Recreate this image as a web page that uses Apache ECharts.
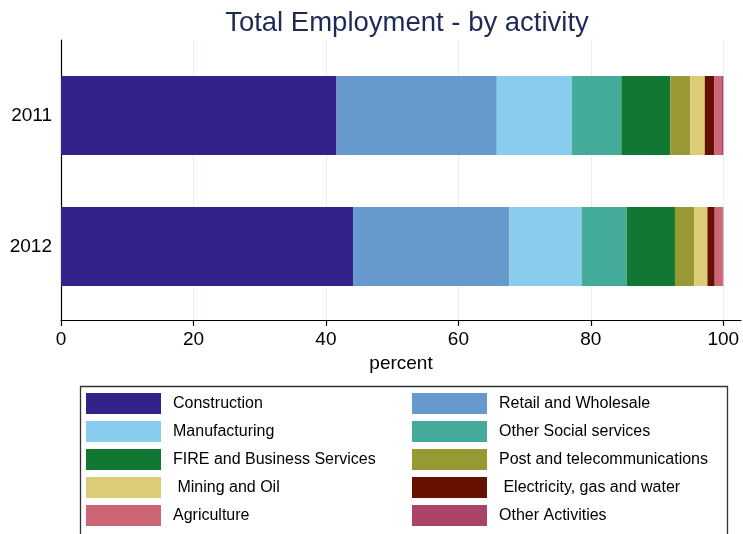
<!DOCTYPE html>
<html>
<head>
<meta charset="utf-8">
<script src="https://cdn.jsdelivr.net/npm/echarts@6/dist/echarts.min.js"></script>
<style>
  html, body { margin: 0; padding: 0; background: #fff; }
  #chart { width: 743px; height: 534px; }
</style>
</head>
<body>
<div id="chart"></div>
<script>
var years = ['2011', '2012'];
var seriesNames = ['Construction', 'Retail and Wholesale', 'Manufacturing', 'Other Social services',
  'FIRE and Business Services', 'Post and telecommunications', ' Mining and Oil',
  ' Electricity, gas and water', 'Agriculture', 'Other Activities'];
var construction = [41.6, 44.1];
var retail = [24.2, 23.6];
var manufacturing = [11.3, 10.9];
var otherSocial = [7.5, 6.8];
var fire = [7.4, 7.3];
var post = [3.0, 2.9];
var mining = [2.2, 2.0];
var electricity = [1.4, 1.1];
var agriculture = [1.2, 1.2];
var otherActivities = [0.2, 0.1];
var xTicks = [0, 20, 40, 60, 80, 100];

var colors = ['#332288', '#6699CC', '#88CCEE', '#44AA99', '#117733', '#999933', '#DDCC77', '#661100', '#CC6677', '#AA4466'];
var values = [construction, retail, manufacturing, otherSocial, fire, post, mining, electricity, agriculture, otherActivities];

var FONT = '"Liberation Sans", Arial, Helvetica, sans-serif';
var XMAX = 102.67;

var series = seriesNames.map(function (n, i) {
  return {
    name: n,
    type: 'bar',
    stack: 'total',
    xAxisIndex: 1,
    yAxisIndex: 1,
    barWidth: 79,
    itemStyle: { color: colors[i] },
    data: values[i]
  };
});

var chart = echarts.init(document.getElementById('chart'), null, { renderer: 'canvas' });
chart.setOption({
  animation: false,
  color: colors,
  title: {
    text: 'Total Employment - by activity',
    left: 402, textAlign: 'center', top: 4,
    textStyle: { fontFamily: FONT, fontSize: 27.5, fontWeight: 'normal', color: '#1e2a55' }
  },
  grid: [
    { left: 61, right: 2, top: 40, bottom: 214 },
    { left: 61, right: 2, top: 50, bottom: 222 }
  ],
  xAxis: [
    {
      gridIndex: 0, type: 'value', min: 0, max: XMAX,
      axisLine: { show: true, lineStyle: { color: '#000', width: 1.2 } },
      axisTick: { show: true, length: 6, customValues: xTicks, lineStyle: { color: '#000', width: 1.2 } },
      axisLabel: { customValues: xTicks, fontFamily: FONT, fontSize: 19, color: '#000', margin: 10 },
      splitLine: { show: true, lineStyle: { color: '#e6eff3', width: 1 } },
      name: 'percent', nameLocation: 'middle', nameGap: 34,
      nameTextStyle: { fontFamily: FONT, fontSize: 19, color: '#000' }
    },
    {
      gridIndex: 1, type: 'value', min: 0, max: XMAX, show: false
    }
  ],
  yAxis: [
    {
      gridIndex: 0, type: 'value', min: 0, max: 1,
      axisLine: { show: true, lineStyle: { color: '#000', width: 1.2 } },
      axisTick: { show: false }, axisLabel: { show: false }, splitLine: { show: false }
    },
    {
      gridIndex: 1, type: 'category', data: years, inverse: true,
      axisLine: { show: false }, axisTick: { show: false },
      axisLabel: { fontFamily: FONT, fontSize: 19, color: '#000', margin: 9 }
    }
  ],
  legend: [
    {
      orient: 'vertical', left: 86, top: 393, padding: 0,
      itemWidth: 75, itemHeight: 21, itemGap: 7, icon: 'rect', selectedMode: false,
      textStyle: { fontFamily: FONT, fontSize: 16, color: '#000', padding: [0, 0, 0, 7] },
      data: [seriesNames[0], seriesNames[2], seriesNames[4], seriesNames[6], seriesNames[8]]
    },
    {
      orient: 'vertical', left: 412, top: 393, padding: 0,
      itemWidth: 75, itemHeight: 21, itemGap: 7, icon: 'rect', selectedMode: false,
      textStyle: { fontFamily: FONT, fontSize: 16, color: '#000', padding: [0, 0, 0, 7] },
      data: [seriesNames[1], seriesNames[3], seriesNames[5], seriesNames[7], seriesNames[9]]
    }
  ],
  graphic: [
    {
      type: 'rect', left: 78, top: 384, silent: true,
      shape: { width: 647, height: 200 },
      style: { fill: 'none', stroke: '#333', lineWidth: 1.3 }
    }
  ],
  series: series
});
</script>
</body>
</html>
